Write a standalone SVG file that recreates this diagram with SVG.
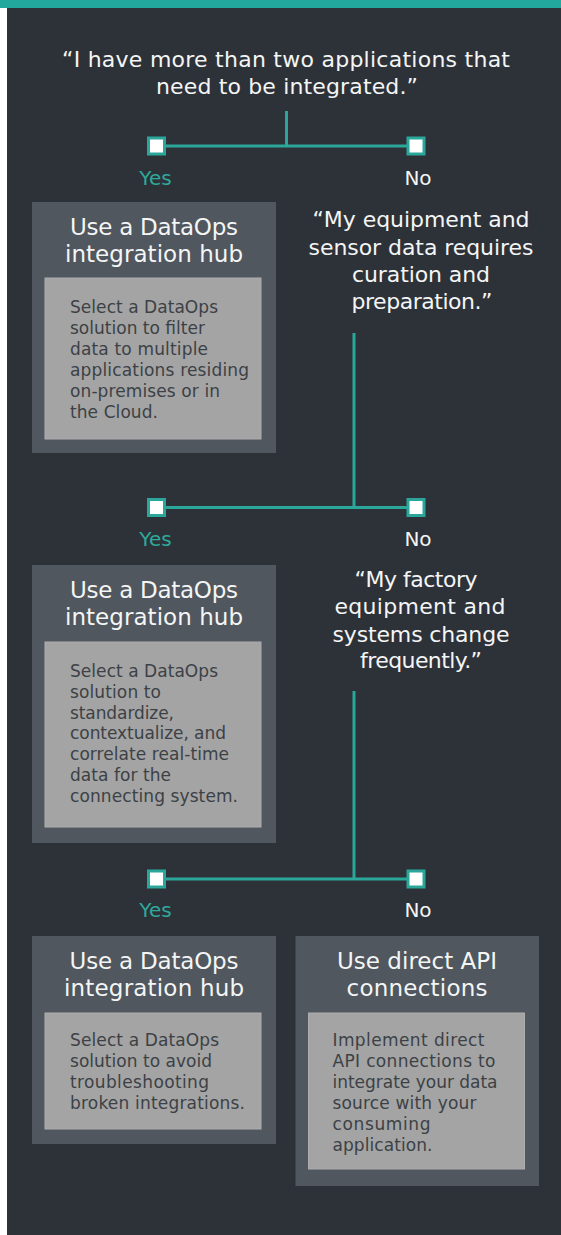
<svg xmlns="http://www.w3.org/2000/svg" width="561" height="1235" viewBox="0 0 561 1235">
<style>
.q{font-family:"DejaVu Sans","Liberation Sans",sans-serif;font-size:22px;fill:#f4f5f5;text-anchor:middle}
.t{font-family:"DejaVu Sans","Liberation Sans",sans-serif;font-size:23px;fill:#f4f5f5;text-anchor:middle}
.b{font-family:"DejaVu Sans","Liberation Sans",sans-serif;font-size:17px;fill:#3c4146}
.yes{font-family:"DejaVu Sans","Liberation Sans",sans-serif;font-size:20px;fill:#2ea99b;text-anchor:middle}
.no{font-family:"DejaVu Sans","Liberation Sans",sans-serif;font-size:20px;fill:#f4f5f5;text-anchor:middle}
.outer{fill:#50575e}
.inner{fill:#a4a4a4;stroke:#adadad;stroke-width:1}
.ln{stroke:#2aa79a;stroke-width:3;fill:none}
.sq{fill:#ffffff;stroke:#2aa79a;stroke-width:3}
</style>
<rect x="0" y="0" width="561" height="1235" fill="#ffffff"/>
<rect x="7" y="0" width="554" height="1235" fill="#2d3239"/>
<rect x="0" y="0" width="561" height="8" fill="#22a89c"/>

<g id="connectors">
  <line class="ln" x1="286.5" y1="111" x2="286.5" y2="146"/>
  <line class="ln" x1="157" y1="146" x2="416" y2="146"/>
  <line class="ln" x1="354" y1="333" x2="354" y2="507.5"/>
  <line class="ln" x1="157" y1="507.5" x2="416" y2="507.5"/>
  <line class="ln" x1="354" y1="691" x2="354" y2="879"/>
  <line class="ln" x1="157" y1="879" x2="416" y2="879"/>
  <rect class="sq" x="148.5" y="138" width="16" height="16"/>
  <rect class="sq" x="408" y="138" width="16" height="16"/>
  <rect class="sq" x="148.5" y="499.5" width="16" height="16"/>
  <rect class="sq" x="408" y="499.5" width="16" height="16"/>
  <rect class="sq" x="148.5" y="871" width="16" height="16"/>
  <rect class="sq" x="408" y="871" width="16" height="16"/>
</g>

<g id="q1">
  <text class="q" x="286" y="67" textLength="448">“I have more than two applications that</text>
  <text class="q" x="287" y="94" textLength="262">need to be integrated.”</text>
</g>
<g id="yes1"><text class="yes" x="155.5" y="185">Yes</text></g>
<g id="no1"><text class="no" x="418" y="185">No</text></g>

<g id="hub1">
  <rect class="outer" x="32" y="202" width="244" height="251"/>
  <text class="t" x="154" y="235" textLength="168">Use a DataOps</text>
  <text class="t" x="154" y="262" textLength="178">integration hub</text>
  <rect class="inner" x="45" y="278" width="216" height="161"/>
  <text class="b" x="70" y="313.3" textLength="148">Select a DataOps</text>
  <text class="b" x="70" y="334.2" textLength="135">solution to filter</text>
  <text class="b" x="70" y="355.1" textLength="138">data to multiple</text>
  <text class="b" x="70" y="376" textLength="179">applications residing</text>
  <text class="b" x="70" y="396.9" textLength="150">on-premises or in</text>
  <text class="b" x="70" y="417.8" textLength="88">the Cloud.</text>
</g>

<g id="q2">
  <text class="q" x="421" y="227" textLength="217">“My equipment and</text>
  <text class="q" x="421" y="254.5" textLength="225">sensor data requires</text>
  <text class="q" x="421" y="282" textLength="138">curation and</text>
  <text class="q" x="422" y="309" textLength="141">preparation.”</text>
</g>
<g id="yes2"><text class="yes" x="155.5" y="546">Yes</text></g>
<g id="no2"><text class="no" x="418" y="546">No</text></g>

<g id="hub2">
  <rect class="outer" x="32" y="565" width="244" height="278"/>
  <text class="t" x="154" y="598" textLength="168">Use a DataOps</text>
  <text class="t" x="154" y="625" textLength="178">integration hub</text>
  <rect class="inner" x="45" y="642" width="216" height="185"/>
  <text class="b" x="70" y="677" textLength="148">Select a DataOps</text>
  <text class="b" x="70" y="697.8" textLength="91">solution to</text>
  <text class="b" x="70" y="718.6" textLength="104">standardize,</text>
  <text class="b" x="70" y="739.4" textLength="156">contextualize, and</text>
  <text class="b" x="70" y="760.2" textLength="159">correlate real-time</text>
  <text class="b" x="70" y="781" textLength="101">data for the</text>
  <text class="b" x="70" y="801.8" textLength="168">connecting system.</text>
</g>

<g id="q3">
  <text class="q" x="416" y="587" textLength="123">“My factory</text>
  <text class="q" x="420" y="614" textLength="171">equipment and</text>
  <text class="q" x="421" y="641.5" textLength="177">systems change</text>
  <text class="q" x="421" y="668" textLength="122">frequently.”</text>
</g>
<g id="yes3"><text class="yes" x="155.5" y="917">Yes</text></g>
<g id="no3"><text class="no" x="418" y="917">No</text></g>

<g id="hub3">
  <rect class="outer" x="32" y="936" width="244" height="208"/>
  <text class="t" x="154" y="969" textLength="169">Use a DataOps</text>
  <text class="t" x="154" y="996" textLength="180">integration hub</text>
  <rect class="inner" x="45" y="1013" width="216" height="116"/>
  <text class="b" x="70" y="1046" textLength="149">Select a DataOps</text>
  <text class="b" x="70" y="1067" textLength="142">solution to avoid</text>
  <text class="b" x="70" y="1088" textLength="139">troubleshooting</text>
  <text class="b" x="70" y="1109" textLength="175">broken integrations.</text>
</g>

<g id="api">
  <rect class="outer" x="295.5" y="936" width="243.5" height="250"/>
  <text class="t" x="417" y="969" textLength="160">Use direct API</text>
  <text class="t" x="417" y="996" textLength="141">connections</text>
  <rect class="inner" x="308.5" y="1013" width="216" height="156"/>
  <text class="b" x="332.5" y="1046" textLength="152">Implement direct</text>
  <text class="b" x="332.5" y="1067" textLength="163">API connections to</text>
  <text class="b" x="332.5" y="1088" textLength="165">integrate your data</text>
  <text class="b" x="332.5" y="1109" textLength="144">source with your</text>
  <text class="b" x="332.5" y="1130" textLength="98">consuming</text>
  <text class="b" x="332.5" y="1151" textLength="100">application.</text>
</g>
</svg>
